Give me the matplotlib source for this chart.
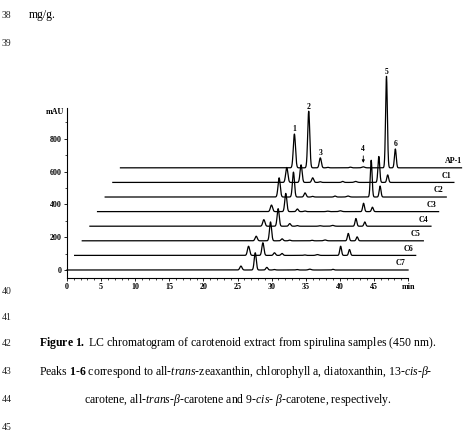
import numpy as np
import matplotlib
matplotlib.use("Agg")
import matplotlib.pyplot as plt

plt.rcParams["font.family"] = "Liberation Serif"
plt.rcParams["mathtext.fontset"] = "custom"
plt.rcParams["mathtext.rm"] = "Liberation Serif"
plt.rcParams["mathtext.it"] = "Liberation Serif:italic"
plt.rcParams["mathtext.bf"] = "Liberation Serif:bold"

# samples from bottom to top of the stack
samples = ["C7", "C6", "C5", "C4", "C3", "C2", "C1", "AP-1"]

# retention times (min) of the peaks, own time of each run
peak_rt = [25.5, 27.6, 29.3, 30.4, 33.7, 35.6, 39.0, 40.3]
peak_sigma = [0.16, 0.15, 0.15, 0.15, 0.15, 0.2, 0.13, 0.13]

# peak heights (mAU) for each sample, same order as peak_rt
h_c7 = [24, 105, 16, 3, 3, 5, 4, 0]
h_c6 = [56, 77, 16, 12, 3, 5, 56, 36]
h_c5 = [28, 115, 12, 4, 3, 5, 45, 24]
h_c4 = [40, 107, 16, 4, 3, 5, 47, 26]
h_c3 = [40, 111, 16, 4, 3, 5, 51, 27]
h_c2 = [117, 152, 25, 4, 6, 6, 224, 67]
h_c1 = [91, 107, 28, 4, 6, 6, 158, 46]
h_ap1 = [206, 345, 61, 3, 4, 6, 558, 115]
heights = [h_c7, h_c6, h_c5, h_c4, h_c3, h_c2, h_c1, h_ap1]

# which entries of peak_rt are the numbered peaks 1-6
numbered = [0, 1, 2, 5, 6, 7]

X_SHIFT = 1.12   # min between stacked runs
Y_SHIFT = 89     # mAU between stacked runs
RUN_LEN = 50

W, H = 463, 443
fig = plt.figure(figsize=(W / 100, H / 100), dpi=100)


def fpos(x, y):
    return x / W, 1 - y / H


ax = fig.add_axes([67 / W, 160 / H, 396 / W, 221 / H])

t = np.linspace(0, RUN_LEN, 3001)
for k, (name, h) in enumerate(zip(samples, heights)):
    sig = np.zeros_like(t)
    for rt, s, a in zip(peak_rt, peak_sigma, h):
        sig += a * np.exp(-0.5 * ((t - rt) / s) ** 2)
    x0, y0 = k * X_SHIFT, k * Y_SHIFT
    ax.plot(t + x0, sig + y0, color="k", lw=0.9, clip_on=False)
    ax.text(x0 + 48.9, y0 + 40, name, ha="center", va="center",
            fontsize=5.8, fontweight="bold")

# peak numbers on AP-1
x0, y0 = (len(samples) - 1) * X_SHIFT, (len(samples) - 1) * Y_SHIFT
for n, i in enumerate(numbered, start=1):
    if n == 4:
        ax.annotate("4", xy=(peak_rt[i] + x0, y0 + 30),
                    xytext=(peak_rt[i] + x0, y0 + 90),
                    ha="center", va="bottom", fontsize=5.5, fontweight="bold",
                    arrowprops=dict(arrowstyle="-|>", lw=0.6, color="k",
                                    shrinkA=0, shrinkB=0, mutation_scale=4))
    else:
        ax.text(peak_rt[i] + x0, y0 + h_ap1[i] + 28, str(n), ha="center",
                va="center", fontsize=5.5, fontweight="bold")

ax.set_xlim(0, 58.06)
ax.set_ylim(-79.3, 1268.3)
for s in ["top", "right"]:
    ax.spines[s].set_visible(False)
ax.spines["left"].set_bounds(-49, 990)
ax.spines["bottom"].set_position(("data", -49))
ax.spines["bottom"].set_bounds(0, 50)
for s in ["left", "bottom"]:
    ax.spines[s].set_linewidth(0.8)

ax.set_xticks(np.arange(0, 51, 5))
ax.set_xticklabels([str(v) for v in range(0, 50, 5)] + ["min"])
ax.set_xticks(np.arange(0, 51, 1), minor=True)
ax.set_yticks(np.arange(0, 801, 200))
ax.set_yticks(np.arange(100, 1000, 200), minor=True)
ax.tick_params(which="major", direction="out", length=2.5, width=0.6,
               labelsize=5.8, pad=1.2)
ax.tick_params(which="minor", direction="out", length=1.5, width=0.5)
for lbl in ax.get_xticklabels() + ax.get_yticklabels():
    lbl.set_fontweight("bold")

fig.text(*fpos(63.5, 112), "mAU", ha="right", va="center", fontsize=5.8,
         fontweight="bold")

# surrounding page text
line_nums = [("38", 15), ("39", 43), ("40", 292), ("41", 317),
             ("42", 343), ("43", 372), ("44", 400), ("45", 427)]
for num, yy in line_nums:
    fig.text(*fpos(2, yy), num, ha="left", va="center", fontsize=7,
             color="#222222")
fig.text(*fpos(29, 15), "mg/g.", ha="left", va="center", fontsize=8.5)

caption = [
    (238, 343, r"$\mathbf{Figure\ 1.}$ LC chromatogram of carotenoid extract "
               r"from spirulina samples (450 nm)."),
    (236, 372, r"Peaks $\mathbf{1}$-$\mathbf{6}$ correspond to all-$\mathit{trans}$"
               r"-zeaxanthin, chlorophyll a, diatoxanthin, 13-$\mathit{cis}$-$\beta$-"),
    (238, 400, r"carotene, all-$\mathit{trans}$-$\beta$-carotene and "
               r"9-$\mathit{cis}$- $\beta$-carotene, respectively."),
]
for xx, yy, txt in caption:
    fig.text(*fpos(xx, yy), txt, ha="center", va="center", fontsize=8.5)

fig.savefig("out.png", dpi=100)
